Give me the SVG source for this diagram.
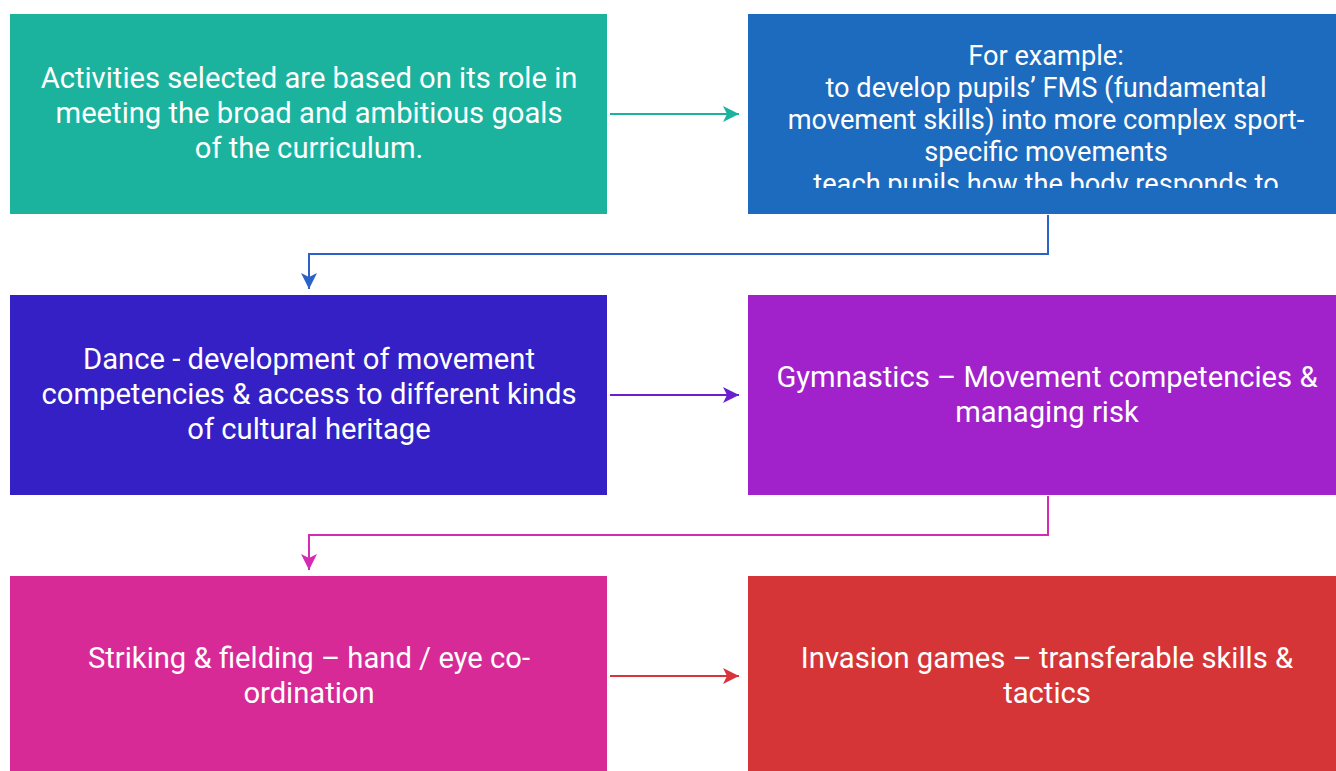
<svg xmlns="http://www.w3.org/2000/svg" width="1336" height="771" viewBox="0 0 1336 771">
<style>
.t{font-family:Roboto,"Open Sans","Liberation Sans",sans-serif;font-size:29.2px;fill:#ffffff;text-anchor:middle}
.t2{font-family:Roboto,"Open Sans","Liberation Sans",sans-serif;font-size:27.2px;fill:#ffffff;text-anchor:middle}
.c{fill:none;stroke-width:2}
</style>
<defs>
<marker id="mTeal" markerUnits="userSpaceOnUse" markerWidth="16" markerHeight="16" refX="16" refY="8" orient="auto"><path d="M0,0 L16,8 L0,16 L4,8 Z" fill="#1BB39E"/></marker>
<marker id="mBlue" markerUnits="userSpaceOnUse" markerWidth="16" markerHeight="16" refX="16" refY="8" orient="auto"><path d="M0,0 L16,8 L0,16 L4,8 Z" fill="#2A62C9"/></marker>
<marker id="mViolet" markerUnits="userSpaceOnUse" markerWidth="16" markerHeight="16" refX="16" refY="8" orient="auto"><path d="M0,0 L16,8 L0,16 L4,8 Z" fill="#6A20CF"/></marker>
<marker id="mPink" markerUnits="userSpaceOnUse" markerWidth="16" markerHeight="16" refX="16" refY="8" orient="auto"><path d="M0,0 L16,8 L0,16 L4,8 Z" fill="#D42BB2"/></marker>
<marker id="mRed" markerUnits="userSpaceOnUse" markerWidth="16" markerHeight="16" refX="16" refY="8" orient="auto"><path d="M0,0 L16,8 L0,16 L4,8 Z" fill="#D8343C"/></marker>
<clipPath id="clipTR"><rect x="748" y="14" width="588" height="174"/></clipPath>
</defs>
<rect width="1336" height="771" fill="#ffffff"/>
<g id="connectors">
<path class="c" d="M610,114 H739" stroke="#1BB39E" marker-end="url(#mTeal)"/>
<path class="c" d="M1048,215 V254 H309 V289" stroke="#2A62C9" marker-end="url(#mBlue)"/>
<path class="c" d="M610,395 H739" stroke="#6A20CF" marker-end="url(#mViolet)"/>
<path class="c" d="M1048,496 V535 H309 V570" stroke="#D42BB2" marker-end="url(#mPink)"/>
<path class="c" d="M610,676 H739" stroke="#D8343C" marker-end="url(#mRed)"/>
</g>
<g id="node-activities">
<rect x="10" y="14" width="597" height="200" fill="#1BB39E"/>
<text class="t" x="309" y="88">Activities selected are based on its role in</text>
<text class="t" x="309" y="123">meeting the broad and ambitious goals</text>
<text class="t" x="309" y="158">of the curriculum.</text>
</g>
<g id="node-example">
<rect x="748" y="14" width="588" height="200" fill="#1D6BBE"/>
<g clip-path="url(#clipTR)">
<text class="t2" x="1046" y="65">For example:</text>
<text class="t2" x="1046" y="97">to develop pupils’ FMS (fundamental</text>
<text class="t2" x="1046" y="129">movement skills) into more complex sport-</text>
<text class="t2" x="1046" y="161">specific movements</text>
<text class="t2" x="1046" y="193">teach pupils how the body responds to</text>
</g>
</g>
<g id="node-dance">
<rect x="10" y="295" width="597" height="200" fill="#3520C5"/>
<text class="t" x="309" y="369">Dance - development of movement</text>
<text class="t" x="309" y="404">competencies &amp; access to different kinds</text>
<text class="t" x="309" y="439">of cultural heritage</text>
</g>
<g id="node-gymnastics">
<rect x="748" y="295" width="588" height="200" fill="#A121CB"/>
<text class="t" x="1047" y="387">Gymnastics – Movement competencies &amp;</text>
<text class="t" x="1047" y="422">managing risk</text>
</g>
<g id="node-striking">
<rect x="10" y="576" width="597" height="200" fill="#D72A96"/>
<text class="t" x="309" y="668">Striking &amp; fielding – hand / eye co-</text>
<text class="t" x="309" y="703">ordination</text>
</g>
<g id="node-invasion">
<rect x="748" y="576" width="588" height="200" fill="#D63538"/>
<text class="t" x="1047" y="668">Invasion games – transferable skills &amp;</text>
<text class="t" x="1047" y="703">tactics</text>
</g>
</svg>
